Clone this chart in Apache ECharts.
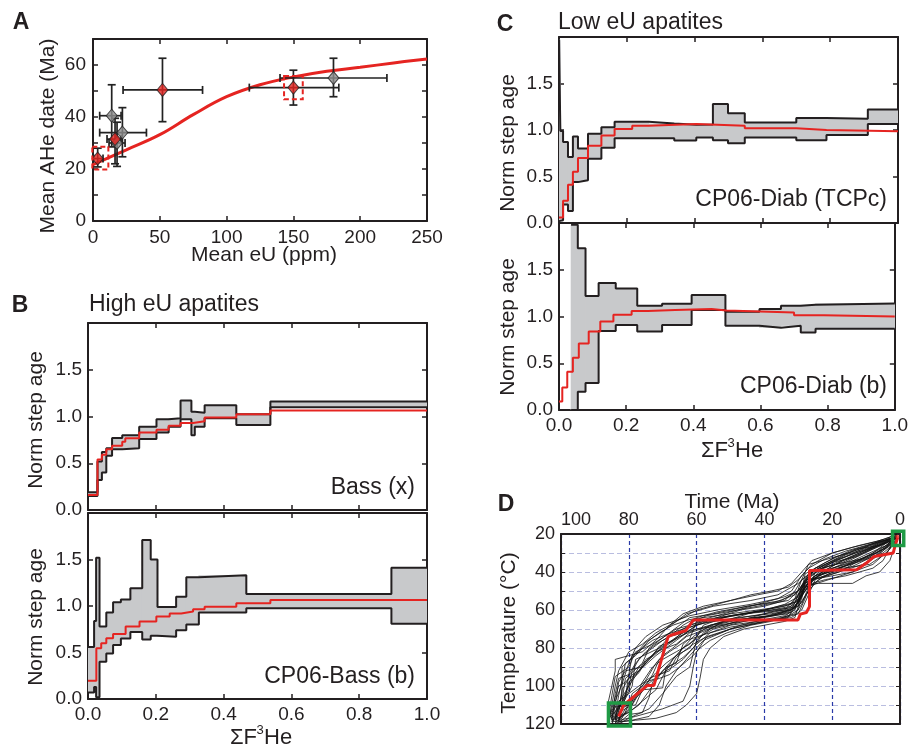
<!DOCTYPE html>
<html><head><meta charset="utf-8">
<script src="https://cdn.jsdelivr.net/npm/echarts@6.0.0/dist/echarts.min.js"></script>
<style>html,body{margin:0;padding:0;background:#fff}#c{width:911px;height:746px}</style>
</head><body><div id="c"></div><script>
// ---------- Panel A data ----------
const aEU      = [14, 18, 22, 180, 3.5, 16.5, 52, 150];
const aAge     = [40.5, 30, 34, 55, 24, 31.5, 50.4, 51.3];
const aEUlo    = [5, 12, 5, 140, 0.5, 10.5, 22.5, 117];
const aEUhi    = [21, 24, 40, 220, 7.5, 21, 82, 184];
const aAgeLo   = [28.5, 21, 24.7, 47.8, 20.8, 22, 38.2, 44.6];
const aAgeHi   = [52.4, 38, 43.6, 62.6, 28, 39.5, 62.6, 58];
const aKind    = ['gray','gray','gray','gray','red','red','red','red'];
const aCurveEU  = [0, 25, 50, 75, 100, 125, 150, 175, 200, 225, 250];
const aCurveAge = [21.7, 27.4, 33.2, 40.9, 47.8, 52.4, 55.4, 57.6, 59.1, 60.8, 62.3];
const aBoxEU0 = [-0.5, 143], aBoxEU1 = [11.5, 157], aBoxAge0 = [19.8, 46.8], aBoxAge1 = [28.6, 55.8];

// ---------- Panel B data ----------
const bTopEdges = [0, 0.028, 0.041, 0.054, 0.071, 0.101, 0.151, 0.202, 0.238, 0.273, 0.305, 0.315, 0.344, 0.4375, 0.538, 1.0];
const bTopLower = [0.15, 0.32, 0.40, 0.58, 0.65, 0.66, 0.76, 0.83, 0.89, 0.97, 0.80, 0.89, 0.98, 0.91, 1.10];
const bTopUpper = [0.19, 0.52, 0.62, 0.66, 0.77, 0.80, 0.89, 0.97, 0.98, 1.17, 1.05, 1.04, 1.12, 1.025, 1.16];
const bTopModelEdges = [0, 0.028, 0.041, 0.054, 0.071, 0.101, 0.11, 0.151, 0.202, 0.238, 0.273, 0.31, 0.344, 0.4375, 0.538, 1.0];
const bTopModel = [0.16, 0.54, 0.59, 0.65, 0.686, 0.73, 0.768, 0.828, 0.857, 0.90, 0.93, 0.95, 0.99, 1.025, 1.064];

const bBotEdges = [0, 0.018, 0.024, 0.034, 0.054, 0.074, 0.097, 0.125, 0.16, 0.185, 0.205, 0.26, 0.29, 0.327, 0.467, 0.895, 1.0];
const bBotLower = [0.07, 0.13, 0.02, 0.40, 0.49, 0.58, 0.65, 0.72, 0.64, 0.68, 0.67, 0.74, 0.80, 0.93, 0.975, 0.81];
const bBotUpper = [0.56, 0.84, 1.52, 0.78, 0.93, 1.04, 1.07, 1.19, 1.71, 1.50, 0.99, 1.10, 1.31, 1.33, 1.13, 1.41];
const bBotModelEdges = [0, 0.0246, 0.039, 0.054, 0.074, 0.111, 0.152, 0.2016, 0.241, 0.275, 0.31, 0.344, 0.4375, 0.538, 1.0];
const bBotModel = [0.196, 0.546, 0.60, 0.654, 0.70, 0.78, 0.832, 0.886, 0.92, 0.94, 0.964, 0.993, 1.03, 1.064];

// ---------- Panel C data ----------
const cTopEdges = [0, 0.004, 0.012, 0.0265, 0.041, 0.056, 0.0855, 0.125, 0.164, 0.2645, 0.34, 0.405, 0.454, 0.4985, 0.548, 0.70, 0.789, 0.911, 1.0];
const cTopLower = [0.02, 0.03, 0.20, 0.13, 0.44, 0.46, 0.69, 0.81, 0.91, 0.91, 0.886, 0.92, 0.89, 0.857, 0.92, 0.89, 0.946, 1.064];
const cTopUpper = [1.97, 0.99, 0.87, 0.71, 0.93, 0.80, 0.96, 1.03, 1.09, 1.07, 1.057, 1.06, 1.28, 1.18, 1.08, 1.13, 1.12, 1.22];
const cTopModelEdges = [0, 0.012, 0.0265, 0.041, 0.056, 0.0855, 0.125, 0.164, 0.216, 0.2645, 0.405, 0.548, 0.70, 0.789, 1.0];
const cTopModel = [0.06, 0.24, 0.41, 0.55, 0.70, 0.83, 0.94, 1.01, 1.046, 1.064, 1.046, 1.018, 1.0, 0.986];

const cBotEdges = [0.036, 0.056, 0.079, 0.118, 0.169, 0.233, 0.307, 0.395, 0.4956, 0.597, 0.661, 0.72, 0.764, 1.0];
const cBotLower = [0.0, 0.196, 0.29, 0.846, 0.91, 0.84, 0.91, 1.07, 0.90, 0.88, 0.90, 0.83, 0.87];
const cBotUpper = [1.98, 1.73, 1.22, 1.357, 1.30, 1.114, 1.136, 1.23, 1.05, 1.08, 1.114, 1.125, 1.14];
const cBotModelEdges = [0, 0.0098, 0.0246, 0.0413, 0.059, 0.0885, 0.123, 0.162, 0.2163, 0.2645, 0.346, 0.4543, 0.4985, 0.70, 0.789, 1.0];
const cBotModel = [0.09, 0.24, 0.41, 0.56, 0.71, 0.84, 0.946, 1.018, 1.06, 1.07, 1.08, 1.064, 1.043, 1.014, 1.0];

// ---------- Panel D data (time Ma, temperature °C) ----------
const dBestFit = [[83,116],[81.5,110],[74.6,99.8],[72.6,99.8],[68.4,74],[67.1,73],[63.2,70.8],[60.9,65.2],[30.1,65.2],[29.4,62.2],[27.6,61.3],[26.7,58.2],[26.7,39.2],[12.8,38.8],[9.9,35.3],[7.6,31.8],[2,30],[1.5,26.5],[0.7,22]];
const dPaths = [
 [[85,119],[83,112],[80,100],[77,92],[72,84],[66,76],[60,68],[50,63],[40,60],[32,57],[28,46],[22,40],[15,34],[8,28],[3,24],[1,21]],
 [[84,118],[82,108],[81,96],[76,88],[74,80],[68,72],[62,64],[55,62],[45,58],[35,55],[30,50],[27,42],[20,36],[12,30],[5,25],[1,22]],
 [[86,117],[85,105],[84,95],[80,90],[78,82],[73,78],[66,70],[58,66],[46,62],[34,60],[31,54],[29,44],[24,38],[16,32],[9,26],[2,22]],
 [[83,120],[80,117],[74,112],[70,104],[66,95],[62,90],[60,76],[56,70],[48,66],[38,63],[32,60],[30,52],[26,44],[18,40],[10,32],[4,26],[1,21]],
 [[84,117],[82,104],[82,90],[79,85],[75,77],[69,70],[63,62],[55,58],[44,55],[36,52],[30,46],[25,38],[18,33],[10,28],[3,23]],
 [[85,118],[81,115],[77,110],[73,100],[70,92],[64,85],[61,80],[58,72],[52,66],[42,64],[33,62],[30,56],[28,48],[21,44],[14,40],[7,32],[2,24]],
 [[83,119],[82,110],[79,100],[78,86],[71,80],[68,74],[60,70],[50,65],[40,62],[31,59],[29,50],[28,41],[22,35],[15,29],[6,24],[1,22]],
 [[86,116],[84,110],[83,98],[81,92],[76,90],[72,82],[66,78],[62,72],[54,67],[43,61],[34,58],[30,55],[27,47],[23,40],[17,34],[11,30],[4,24],[1,20]],
 [[84,119],[79,118],[74,116],[71,110],[69,100],[66,92],[62,84],[58,76],[50,70],[40,66],[33,64],[31,58],[28,50],[25,42],[19,36],[12,30],[6,25],[1,21]],
 [[85,117],[84,108],[82,99],[80,88],[78,80],[75,74],[70,68],[62,63],[54,60],[44,57],[36,54],[32,50],[29,42],[26,36],[20,30],[12,26],[5,23]],
 [[83,118],[80,112],[78,104],[75,98],[72,96],[68,88],[64,80],[61,74],[56,68],[48,65],[38,63],[33,61],[30,57],[28,46],[24,42],[18,38],[10,33],[4,27],[1,22]],
 [[84,120],[83,114],[82,102],[80,96],[78,94],[74,86],[70,80],[65,74],[60,70],[52,68],[44,64],[36,60],[30,58],[27,50],[25,40],[20,35],[13,32],[7,27],[2,23]],
 [[85,119],[78,116],[74,114],[70,112],[64,108],[62,100],[61,90],[60,82],[57,74],[50,70],[42,67],[34,64],[30,62],[28,54],[26,45],[22,40],[15,36],[8,30],[2,22]],
 [[86,118],[85,110],[84,100],[83,92],[80,82],[76,78],[72,72],[66,66],[60,60],[52,56],[44,52],[38,50],[33,48],[30,44],[27,38],[22,33],[16,29],[8,25],[2,21]],
 [[84,117],[82,112],[79,108],[76,103],[73,94],[71,86],[68,82],[63,76],[58,73],[50,69],[40,66],[32,64],[29,60],[27,52],[25,44],[21,41],[14,37],[7,31],[3,25],[1,20]],
 [[83,118],[81,106],[80,94],[79,84],[77,82],[74,76],[71,72],[67,68],[62,65],[54,63],[46,61],[38,59],[31,56],[29,48],[27,43],[23,38],[17,35],[10,29],[3,23]],
 [[85,120],[84,116],[80,114],[76,108],[72,102],[70,95],[67,86],[64,80],[60,75],[55,70],[46,66],[36,62],[31,59],[29,52],[28,44],[25,39],[19,36],[11,33],[5,28],[1,22]],
 [[86,117],[83,112],[81,105],[80,98],[77,93],[75,87],[71,80],[67,76],[63,70],[58,66],[50,63],[40,60],[34,57],[30,53],[28,45],[26,40],[20,34],[13,28],[6,26],[2,23]],
 [[84,118],[82,116],[80,113],[78,106],[76,98],[73,90],[70,86],[66,82],[62,78],[59,72],[54,68],[46,66],[37,63],[32,61],[29,56],[27,50],[24,44],[18,38],[11,34],[5,30],[1,24]],
 [[85,119],[84,113],[82,109],[80,102],[79,96],[77,90],[73,84],[69,78],[64,72],[61,66],[57,63],[48,60],[39,57],[33,55],[30,50],[27,41],[22,36],[16,31],[9,27],[3,22]],
 [[83,117],[82,113],[79,110],[77,104],[75,99],[72,93],[69,88],[66,84],[62,80],[60,74],[58,68],[52,64],[42,61],[33,59],[30,55],[29,47],[25,42],[17,38],[9,36],[4,30],[1,23]],
 [[84,116],[83,105],[82,97],[81,88],[78,84],[76,80],[73,76],[69,73],[64,70],[58,67],[48,64],[38,62],[32,60],[29,54],[28,46],[25,38],[19,32],[12,28],[5,24],[1,21]],
 [[86,119],[85,114],[83,108],[80,104],[77,100],[74,96],[70,93],[67,90],[64,86],[62,82],[60,78],[56,72],[50,68],[42,66],[35,64],[31,62],[29,57],[27,48],[23,43],[18,40],[11,36],[6,30],[2,25]],
 [[84,118],[83,109],[81,103],[80,100],[79,92],[77,86],[75,82],[72,78],[68,74],[64,68],[60,64],[54,61],[45,58],[37,56],[31,52],[28,45],[24,39],[19,34],[13,30],[6,26],[1,22]],
 [[85,118],[86,108],[85,100],[84,92],[84,86],[80,84],[76,82],[72,76],[68,68],[64,62],[58,58],[50,55],[42,52],[36,50],[32,46],[29,40],[26,34],[20,30],[14,27],[7,24],[2,21]],
 [[83,119],[78,118],[72,117],[66,114],[63,110],[60,104],[59,96],[58,86],[56,80],[52,74],[46,70],[40,68],[34,66],[31,64],[30,58],[29,50],[26,44],[20,42],[14,40],[8,36],[3,28],[1,22]],
 [[85,117],[84,111],[78,110],[76,102],[70,101],[69,90],[66,88],[64,78],[62,75],[60,66],[54,64],[47,60],[40,58],[34,55],[31,50],[29,44],[27,36],[21,33],[15,30],[8,25],[2,22]],
 [[84,120],[82,118],[80,115],[76,114],[74,106],[73,98],[71,94],[68,92],[66,85],[64,82],[61,78],[58,75],[53,72],[47,68],[40,65],[34,63],[31,60],[30,54],[27,46],[24,40],[16,36],[9,32],[3,26],[1,21]],
 [[85,118],[84,104],[83,96],[80,94],[78,88],[76,84],[73,80],[70,76],[66,72],[62,68],[56,64],[48,60],[40,56],[34,53],[30,50],[28,47],[24,46],[20,46],[14,46],[10,42],[6,40],[3,34],[1,24]],
 [[84,119],[82,117],[80,110],[79,104],[76,100],[74,94],[72,88],[70,84],[67,80],[63,74],[60,72],[55,68],[47,65],[39,63],[33,60],[30,56],[28,50],[26,46],[22,44],[16,42],[12,40],[8,38],[5,34],[2,24]],
 [[86,118],[85,112],[84,106],[83,100],[81,98],[79,94],[77,92],[75,86],[73,84],[71,79],[68,77],[64,73],[60,68],[54,64],[46,62],[38,60],[32,58],[29,52],[27,45],[25,42],[20,38],[15,35],[9,30],[4,26],[1,21]],
 [[83,118],[81,112],[79,107],[77,104],[75,100],[73,97],[71,96],[68,94],[65,90],[63,87],[61,84],[59,80],[56,76],[51,72],[44,68],[38,66],[33,63],[30,60],[29,53],[28,47],[24,42],[19,39],[13,34],[7,30],[2,23]]
];
const dBoxT0 = [86, 2.2], dBoxT1 = [79.5, -1.1], dBoxTemp0 = [109, 18.5], dBoxTemp1 = [121, 26];

// ---------- styling ----------
const FONT = '"Liberation Sans", Arial, sans-serif';
const FR = '#231f20', RED = '#e52421', GRAY = '#c8c9cb';

function ax(gi, pos, min, max, interval, labelOpt, extra) {
  return Object.assign({
    gridIndex: gi, type: 'value', position: pos, min: min, max: max, interval: interval,
    axisLine: {show: true, onZero: false, lineStyle: {color: FR, width: 2}},
    axisTick: {show: true, inside: true, length: 5, lineStyle: {color: FR, width: 1.5}},
    axisLabel: labelOpt ? Object.assign({fontSize: 19, color: FR, fontFamily: FONT}, labelOpt) : {show: false},
    splitLine: {show: false}
  }, extra || {});
}
const fmt1 = v => Math.abs(v - 2) < 1e-6 ? '' : v.toFixed(1);
const fmtX1 = v => v.toFixed(1);

const grids = [
  {left: 93, top: 39, width: 334, height: 182},
  {left: 88, top: 323, width: 339, height: 187},
  {left: 88, top: 513, width: 339, height: 186},
  {left: 559, top: 37, width: 339, height: 186},
  {left: 559, top: 223, width: 339, height: 187},
  {left: 561, top: 534, width: 339, height: 190}
];
const xAxes = [
  ax(0, 'bottom', 0, 250, 50, {margin: 7}), ax(0, 'top', 0, 250, 50, null),
  ax(1, 'bottom', 0, 1, 0.2, null), ax(1, 'top', 0, 1, 0.2, null),
  ax(2, 'bottom', 0, 1, 0.2, {margin: 6, formatter: fmtX1}), ax(2, 'top', 0, 1, 0.2, null),
  ax(3, 'bottom', 0, 1, 0.2, null), ax(3, 'top', 0, 1, 0.2, null),
  ax(4, 'bottom', 0, 1, 0.2, {margin: 6, formatter: fmtX1}), ax(4, 'top', 0, 1, 0.2, null),
  ax(5, 'bottom', 0, 100, 20, null, {inverse: true, axisTick: {show: false},
     splitLine: {show: true, lineStyle: {color: '#2a3aa8', type: [4, 3], width: 1.2}}}),
  ax(5, 'top', 0, 100, 20, {fontSize: 18, margin: 5, alignMaxLabel: 'left'}, {inverse: true, axisTick: {show: false}})
];
const yAxes = [
  ax(0, 'left', 0, 70, 10, {margin: 7, formatter: v => (v % 20 === 0 && v < 70) ? String(v) : ''}), ax(0, 'right', 0, 70, 10, null),
  ax(1, 'left', 0, 2, 0.5, {margin: 6, formatter: fmt1}), ax(1, 'right', 0, 2, 0.5, null),
  ax(2, 'left', 0, 2, 0.5, {margin: 6, formatter: fmt1}), ax(2, 'right', 0, 2, 0.5, null),
  ax(3, 'left', 0, 2, 0.5, {margin: 6, formatter: fmt1}), ax(3, 'right', 0, 2, 0.5, null),
  ax(4, 'left', 0, 2, 0.5, {margin: 6, formatter: fmt1}), ax(4, 'right', 0, 2, 0.5, null),
  ax(5, 'left', 20, 120, 10, {fontSize: 18, margin: 6, formatter: v => v % 20 === 0 ? String(v) : ''},
     {inverse: true, axisTick: {show: true, inside: true, length: 4, lineStyle: {color: FR}},
      splitLine: {show: true, lineStyle: {color: '#b9bde0', type: [5, 3], width: 1}}}),
  ax(5, 'right', 20, 120, 10, null, {inverse: true, axisTick: {show: true, inside: true, length: 4, lineStyle: {color: FR}}})
];

function stepPts(edges, vals) {
  const p = [];
  vals.forEach((v, i) => { p.push([edges[i], v]); p.push([edges[i + 1], v]); });
  return p;
}
function lineS(gi, pts, color, width, z, extra) {
  return Object.assign({type: 'line', xAxisIndex: 2 * gi, yAxisIndex: 2 * gi, data: pts, showSymbol: false,
    symbol: 'none', lineStyle: {color: color, width: width}, silent: true, z: z, animation: false}, extra || {});
}
function bandS(gi, edges, lo, hi) {
  return {type: 'custom', xAxisIndex: 2 * gi, yAxisIndex: 2 * gi, silent: true, z: 1, clip: true,
    data: lo.map((v, i) => [edges[i], edges[i + 1], lo[i], hi[i]]),
    encode: {x: [0, 1], y: [2, 3]},
    renderItem: function (params, api) {
      const a = api.coord([api.value(0), api.value(3)]);
      const b = api.coord([api.value(1), api.value(2)]);
      return {type: 'rect', shape: {x: a[0] - 0.4, y: a[1], width: b[0] - a[0] + 0.8, height: b[1] - a[1]},
        style: {fill: GRAY}};
    }};
}
function stepPanel(gi, edges, lo, hi, mEdges, model) {
  return [
    bandS(gi, edges, lo, hi),
    lineS(gi, stepPts(edges, hi), FR, 2, 3),
    lineS(gi, stepPts(edges, lo), FR, 2, 3),
    lineS(gi, stepPts(mEdges, model), RED, 2, 4)
  ];
}

const series = [];
// Panel A
series.push(lineS(0, aCurveEU.map((x, i) => [x, aCurveAge[i]]), RED, 3, 2, {smooth: 0.4}));
series.push({type: 'custom', xAxisIndex: 0, yAxisIndex: 0, silent: true, z: 3, clip: false,
  data: aEU.map((x, i) => [x, aAge[i], aEUlo[i], aEUhi[i], aAgeLo[i], aAgeHi[i]]),
  encode: {x: [0, 2, 3], y: [1, 4, 5]},
  renderItem: function (params, api) {
    const c = api.coord([api.value(0), api.value(1)]);
    const l = api.coord([api.value(2), api.value(1)]);
    const r = api.coord([api.value(3), api.value(1)]);
    const bo = api.coord([api.value(0), api.value(4)]);
    const t = api.coord([api.value(0), api.value(5)]);
    const st = {stroke: '#222', lineWidth: 1.7};
    const cap = 4;
    const L = (x1, y1, x2, y2) => ({type: 'line', shape: {x1, y1, x2, y2}, style: st});
    return {type: 'group', children: [
      L(l[0], c[1], r[0], c[1]), L(l[0], c[1] - cap, l[0], c[1] + cap), L(r[0], c[1] - cap, r[0], c[1] + cap),
      L(c[0], t[1], c[0], bo[1]), L(c[0] - cap, t[1], c[0] + cap, t[1]), L(c[0] - cap, bo[1], c[0] + cap, bo[1])
    ]};
  }});
series.push({type: 'scatter', xAxisIndex: 0, yAxisIndex: 0, z: 5, silent: true, symbol: 'diamond', symbolSize: [11, 13],
  data: aEU.map((x, i) => ({value: [x, aAge[i]], itemStyle: {color: aKind[i] === 'red' ? RED : '#8d8d8d', borderColor: '#222', borderWidth: 1}}))});
series.push({type: 'custom', xAxisIndex: 0, yAxisIndex: 0, silent: true, z: 6, clip: false,
  data: aBoxEU0.map((x, i) => [x, aBoxEU1[i], aBoxAge0[i], aBoxAge1[i]]),
  encode: {x: [0, 1], y: [2, 3]},
  renderItem: function (params, api) {
    const a = api.coord([api.value(0), api.value(3)]);
    const b = api.coord([api.value(1), api.value(2)]);
    return {type: 'rect', shape: {x: a[0], y: a[1], width: b[0] - a[0], height: b[1] - a[1]},
      style: {fill: 'none', stroke: RED, lineWidth: 2, lineDash: [5, 3]}};
  }});
// Panels B, C
series.push(...stepPanel(1, bTopEdges, bTopLower, bTopUpper, bTopModelEdges, bTopModel));
series.push(...stepPanel(2, bBotEdges, bBotLower, bBotUpper, bBotModelEdges, bBotModel));
series.push(...stepPanel(3, cTopEdges, cTopLower, cTopUpper, cTopModelEdges, cTopModel));
series.push(...stepPanel(4, cBotEdges, cBotLower, cBotUpper, cBotModelEdges, cBotModel));
// Panel D
dPaths.forEach(p => series.push(lineS(5, p, '#111', 0.8, 2)));
series.push(lineS(5, dBestFit, RED, 3, 4));
series.push({type: 'custom', xAxisIndex: 10, yAxisIndex: 10, silent: true, z: 6, clip: false,
  data: dBoxT0.map((t, i) => [t, dBoxT1[i], dBoxTemp0[i], dBoxTemp1[i]]),
  encode: {x: [0, 1], y: [2, 3]},
  renderItem: function (params, api) {
    const a = api.coord([api.value(0), api.value(2)]);
    const b = api.coord([api.value(1), api.value(3)]);
    const x = Math.min(a[0], b[0]), y = Math.min(a[1], b[1]);
    return {type: 'rect', shape: {x: x, y: y, width: Math.abs(b[0] - a[0]), height: Math.abs(b[1] - a[1])},
      style: {fill: 'none', stroke: '#1f9a45', lineWidth: 3.5}};
  }});
series.push({type: 'scatter', xAxisIndex: 10, yAxisIndex: 10, z: 7, silent: true, symbolSize: 4,
  data: [[0.8, 21.5]], itemStyle: {color: RED}});

function T(text, x, y, size, opt) {
  opt = opt || {};
  return {type: 'text', x: x, y: y, rotation: opt.rot || 0, z: 100,
    style: {text: text, font: (opt.bold ? 'bold ' : '') + size + 'px ' + FONT, fill: FR,
      textAlign: opt.align || 'center', textVerticalAlign: 'middle', align: opt.align || 'center', verticalAlign: 'middle'}};
}
function sigmaLabel(x0, y) {
  return [T('ΣF', x0, y, 22, {align: 'left'}), T('3', x0 + 26.5, y - 8, 13, {align: 'left'}), T('He', x0 + 34, y, 22, {align: 'left'})];
}
const graphics = [
  T('A', 21, 23, 23, {bold: true}), T('B', 20, 306, 23, {bold: true}),
  T('C', 505, 25, 23, {bold: true}), T('D', 506, 505, 23, {bold: true}),
  T('High eU apatites', 89, 305, 23, {align: 'left'}),
  T('Low eU apatites', 558, 23, 23, {align: 'left'}),
  T('Mean AHe date (Ma)', 48, 136, 21, {rot: Math.PI / 2}),
  T('Mean eU (ppm)', 264, 255, 21),
  T('Norm step age', 36, 420, 21, {rot: Math.PI / 2}),
  T('Norm step age', 36, 617, 21, {rot: Math.PI / 2}),
  T('Norm step age', 508, 143, 21, {rot: Math.PI / 2}),
  T('Norm step age', 508, 327, 21, {rot: Math.PI / 2}),
  T('Bass (x)', 415, 488, 23, {align: 'right'}),
  T('CP06-Bass (b)', 415, 677, 23, {align: 'right'}),
  T('CP06-Diab (TCPc)', 887, 200, 23, {align: 'right'}),
  T('CP06-Diab (b)', 887, 387, 23, {align: 'right'}),
  T('Time (Ma)', 732, 502, 21),
  T('Temperature (°C)', 509, 633, 21, {rot: Math.PI / 2}),
  ...sigmaLabel(230, 738),
  ...sigmaLabel(701, 451)
];

const chart = echarts.init(document.getElementById('c'), null, {renderer: 'canvas'});
chart.setOption({
  animation: false,
  backgroundColor: '#fff',
  grid: grids,
  xAxis: xAxes,
  yAxis: yAxes,
  series: series,
  graphic: graphics
});
</script></body></html>
